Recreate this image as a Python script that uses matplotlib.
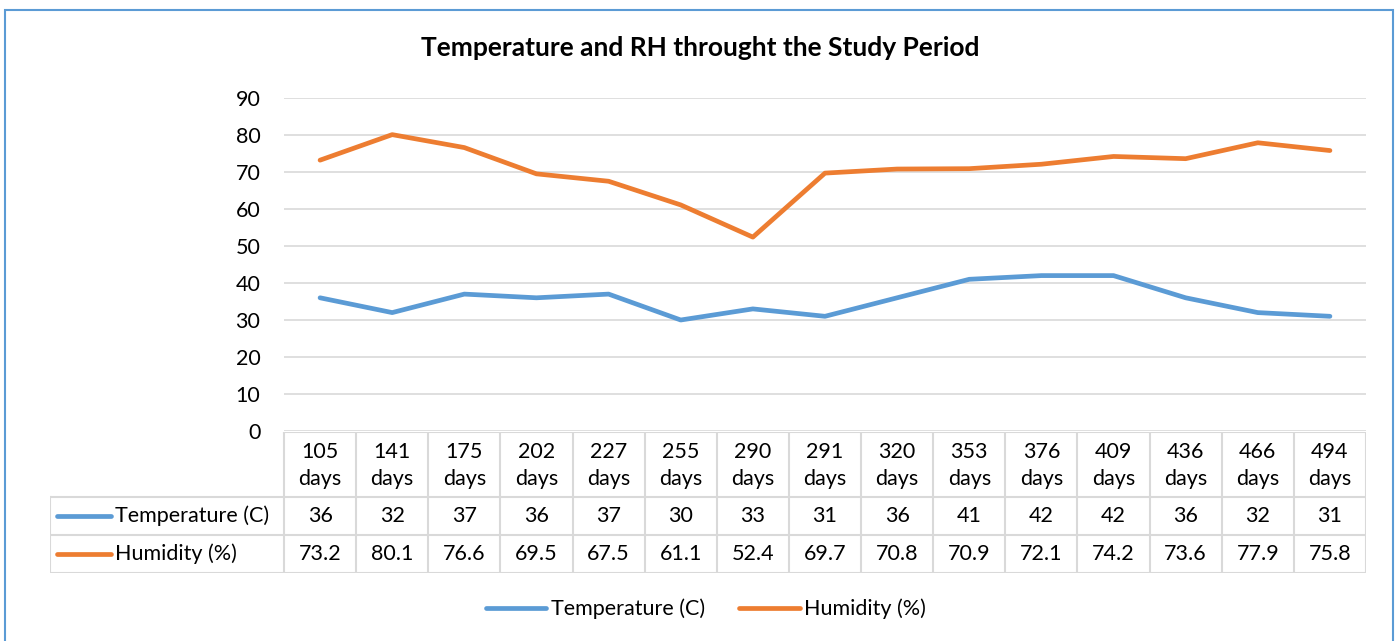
import numpy as np
import matplotlib.pyplot as plt
from matplotlib.lines import Line2D
from matplotlib.patches import Rectangle

plt.rcParams['font.family'] = ['Lato', 'DejaVu Sans']

# data
days = ["105", "141", "175", "202", "227", "255", "290", "291",
        "320", "353", "376", "409", "436", "466", "494"]
temperature = [36, 32, 37, 36, 37, 30, 33, 31, 36, 41, 42, 42, 36, 32, 31]
humidity = [73.2, 80.1, 76.6, 69.5, 67.5, 61.1, 52.4, 69.7,
            70.8, 70.9, 72.1, 74.2, 73.6, 77.9, 75.8]
series_names = ["Temperature (C)", "Humidity (%)"]
colors = ["#5B9BD5", "#ED7D31"]

W, H = 1397, 641
fs = 15.5
fig = plt.figure(figsize=(W / 100, H / 100), dpi=100)

# outer chart frame (bottom edge is off the picture)
fig.patches.append(Rectangle((5 / W, -0.05), (1393 - 5) / W, (H - 10) / H + 0.05,
                             transform=fig.transFigure, fill=False,
                             edgecolor="#5B9BD5", linewidth=1.5))

x = np.arange(len(days))
left, right = 284, 1366
top, bottom = 98, 431
ax = fig.add_axes([left / W, 1 - bottom / H, (right - left) / W, (bottom - top) / H])
ax.plot(x, temperature, color=colors[0], linewidth=3.4, solid_capstyle="round")
ax.plot(x, humidity, color=colors[1], linewidth=3.4, solid_capstyle="round")
ax.set_xlim(-0.5, len(days) - 0.5)
ax.set_ylim(0, 90)
ax.set_yticks(range(0, 91, 10))
ax.yaxis.grid(True, color="#D9D9D9", linewidth=1.2)
ax.set_axisbelow(True)
ax.set_xticks([])
for s in ax.spines.values():
    s.set_visible(False)
ax.tick_params(axis="y", length=0, labelsize=fs, pad=17)

fig.text(700 / W, 1 - 48 / H, "Temperature and RH throught the Study Period",
         ha="center", va="center", fontsize=19, fontweight="bold")

# data table under the plot
col_w = (right - left) / len(days)
tab_left = 50
extra = (left - tab_left) / col_w
tab_top, row1, row2, tab_bot = 432, 497, 535, 573
tax = fig.add_axes([tab_left / W, 1 - tab_bot / H, (right - tab_left) / W,
                    (tab_bot - tab_top) / H])
tax.set_xlim(-0.5 - extra, len(days) - 0.5)
tax.set_ylim(tab_bot, tab_top)
tax.axis("off")
gc = "#D9D9D9"
lw = 1.5
# horizontal lines
tax.plot([-0.5, len(days) - 0.5], [tab_top, tab_top], color=gc, lw=lw)
for yy in (row1, row2, tab_bot):
    tax.plot([-0.5 - extra, len(days) - 0.5], [yy, yy], color=gc, lw=lw)
# vertical lines
for i in range(len(days) + 1):
    tax.plot([i - 0.5, i - 0.5], [tab_top, tab_bot], color=gc, lw=lw)
tax.plot([-0.5 - extra, -0.5 - extra], [row1, tab_bot], color=gc, lw=lw)

for i, d in enumerate(days):
    tax.text(i, (tab_top + row1) / 2 + 1, d + "\ndays", ha="center", va="center",
             fontsize=fs, linespacing=1.45)
    tax.text(i, (row1 + row2) / 2, str(temperature[i]), ha="center", va="center", fontsize=fs)
    tax.text(i, (row2 + tab_bot) / 2, f"{humidity[i]:.1f}", ha="center", va="center", fontsize=fs)

for r, (yc, name, c) in enumerate(zip([(row1 + row2) / 2, (row2 + tab_bot) / 2],
                                      series_names, colors)):
    x0 = -0.5 - extra + 7 / col_w
    x1 = -0.5 - extra + 61 / col_w
    tax.plot([x0, x1], [yc, yc], color=c, lw=3.4, solid_capstyle="round")
    tax.text(x1 + 4 / col_w, yc, name, ha="left", va="center", fontsize=fs)

# legend at the bottom
handles = [Line2D([], [], color=c, lw=3.4, solid_capstyle="round") for c in colors]
fig.legend(handles, series_names, loc="center", bbox_to_anchor=(706 / W, 1 - 609 / H),
           ncol=2, frameon=False, fontsize=fs, handlelength=2.8, handletextpad=0.2,
           columnspacing=1.6)

fig.savefig("out.png", dpi=100)
